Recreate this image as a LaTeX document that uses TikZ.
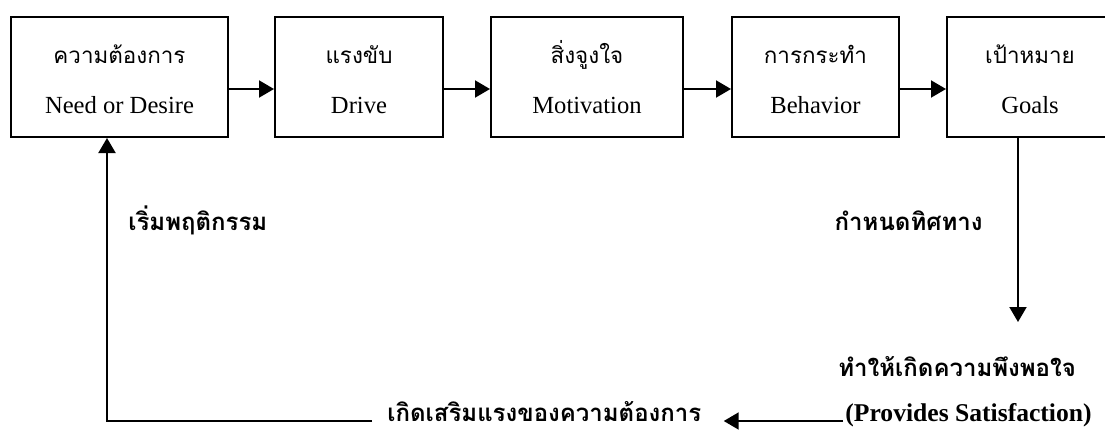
\documentclass[tikz,border=0pt]{standalone}
\usepackage{fontspec}
\setmainfont{Liberation Serif}
\newfontfamily\thai[Script=Thai]{Loma}
\usetikzlibrary{arrows.meta}

\begin{document}
\begin{tikzpicture}[x=0.5pt,y=-0.5pt,
	box/.style={draw,line width=1pt,minimum height=60pt,inner sep=0pt},
	arr/.style={line width=1pt,-{Triangle[length=7.5pt,width=8.5pt]}},
	th/.style={font=\thai\fontsize{11.2}{13}\selectfont,inner sep=0pt},
	en/.style={font=\fontsize{12.3}{14}\selectfont,inner sep=0pt},
	lbl/.style={font=\thai\bfseries\fontsize{12}{14}\selectfont,inner sep=0pt}]
	\useasboundingbox (0,0) rectangle (1105,430);
	% boxes
	\foreach \n/\xc/\bw/\thtext/\entext in {1/119.5/108.5/ความต้องการ/Need or Desire,
		2/359/84/แรงขับ/Drive, 3/587/96/สิ่งจูงใจ/Motivation,
		4/815.5/83.5/การกระทำ/Behavior, 5/1030/83/เป้าหมาย/Goals}{
		\node[box,minimum width=\bw pt] (b\n) at (\xc,77) {};
		\node[th,anchor=base] (t\n) at (\xc,63) {\thtext};
		\node[en,anchor=base] (e\n) at (\xc,113) {\entext};
	}
	\foreach \a/\b in {1/2,2/3,3/4,4/5}
		\draw[arr] ([yshift=-6pt]b\a.east) -- ([yshift=-6pt]b\b.west);
	% labels
	\node[lbl,anchor=base west] (start) at (128,230) {เริ่มพฤติกรรม};
	\node[lbl,anchor=base east] (dir) at (983,230) {กำหนดทิศทาง};
	\node[lbl,anchor=base west] (sat) at (838,376) {ทำให้เกิดความพึงพอใจ};
	\node[lbl,anchor=base west] (fb) at (387,421) {เกิดเสริมแรงของความต้องการ};
	\node[anchor=base west,inner sep=0pt,font=\bfseries\fontsize{12.8}{15}\selectfont] (ps) at (845,421) {(Provides Satisfaction)};
	% loop back
	\coordinate (gd) at (1018,322);
	\draw[arr] (b5.south -| gd) -- (gd);
	\draw[arr] ([xshift=-1pt]ps.base west) -- ([xshift=11pt]fb.base east);
	\draw[arr] ([xshift=-7.5pt]fb.base west) -| ([xshift=-6.25pt]b1.south);
\end{tikzpicture}
\end{document}
